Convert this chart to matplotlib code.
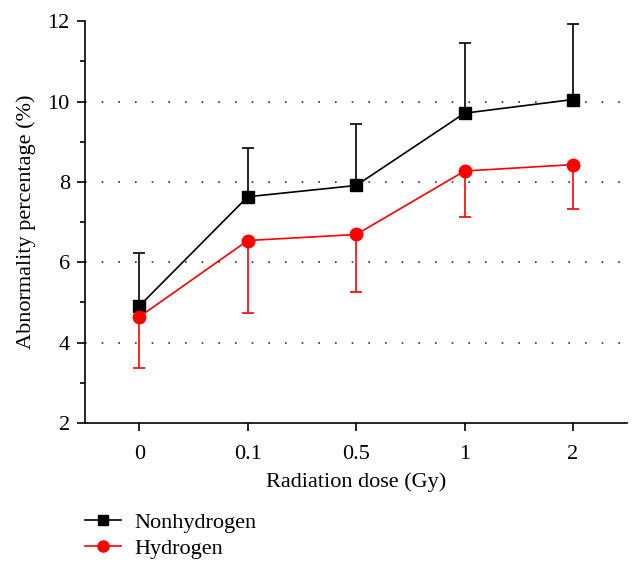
import numpy as np
import matplotlib.pyplot as plt
from matplotlib.lines import Line2D
from matplotlib.ticker import MultipleLocator

plt.rcParams['font.family'] = ['Liberation Serif', 'DejaVu Serif']

doses = ['0', '0.1', '0.5', '1', '2']
nonhydrogen = [4.91, 7.63, 7.91, 9.71, 10.05]
nonhydrogen_err = [1.33, 1.22, 1.53, 1.75, 1.87]
hydrogen = [4.64, 6.54, 6.69, 8.27, 8.43]
hydrogen_err = [1.27, 1.81, 1.42, 1.14, 1.11]

x = np.arange(len(doses))

fig = plt.figure(figsize=(6.4, 5.73), dpi=100)
ax = fig.add_axes([0.133, 0.262, 0.847, 0.701])

ax.errorbar(x, nonhydrogen, yerr=[np.zeros(len(x)), nonhydrogen_err],
            color='black', marker='s', markersize=8, linewidth=1.2,
            capsize=4, elinewidth=1.2, capthick=1.2, zorder=3)
ax.errorbar(x, hydrogen, yerr=[hydrogen_err, np.zeros(len(x))],
            color='#ff0000', marker='o', markersize=9, linewidth=1.2,
            capsize=4, elinewidth=1.2, capthick=1.2, zorder=3)

ax.set_xlim(-0.5, 4.5)
ax.set_ylim(2, 12)
ax.set_xticks(x)
ax.set_xticklabels(doses)
ax.yaxis.set_major_locator(MultipleLocator(2))
ax.yaxis.set_minor_locator(MultipleLocator(1))
for yv in [4, 6, 8, 10]:
    ax.axhline(yv, color='#333333', linestyle=(0, (1, 9)), linewidth=1.2, zorder=1)

ax.spines['top'].set_visible(False)
ax.spines['right'].set_visible(False)
ax.spines['left'].set_linewidth(1.2)
ax.spines['bottom'].set_linewidth(1.2)
ax.tick_params(axis='both', which='major', direction='out', length=6, width=1.2,
               labelsize=16, pad=5)
ax.tick_params(axis='x', which='major', pad=10)
ax.tick_params(axis='y', which='minor', direction='out', length=3.5, width=1.2)

ax.set_xlabel('Radiation dose (Gy)', fontsize=16, labelpad=6)
ax.set_ylabel('Abnormality percentage (%)', fontsize=16, labelpad=8)

handles = [Line2D([], [], color='black', marker='s', markersize=7, linewidth=1.2),
           Line2D([], [], color='#ff0000', marker='o', markersize=8, linewidth=1.2)]
labels = ['Nonhydrogen', 'Hydrogen']
fig.legend(handles, labels, loc='upper left', bbox_to_anchor=(0.133, 0.106),
           frameon=False, fontsize=16, handlelength=1.6, handletextpad=0.6,
           labelspacing=0.25, borderaxespad=0, borderpad=0)

fig.savefig('out.png', dpi=100)
